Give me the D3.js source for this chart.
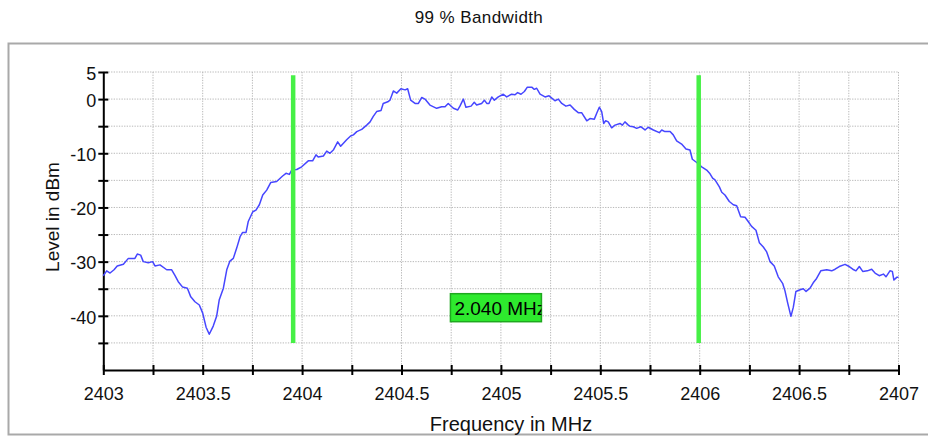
<!DOCTYPE html>
<html>
<head>
<meta charset="utf-8">
<script src="https://cdn.jsdelivr.net/npm/d3@7"></script>
<style>
  html, body { margin: 0; padding: 0; background: #ffffff; }
  svg { display: block; font-family: "Liberation Sans", Arial, sans-serif; }
</style>
</head>
<body>
<svg id="chart" width="928" height="437"></svg>
<script>
// Spectrum trace: frequency (MHz) and level (dBm)
const freqMHz = [
  2403.000, 2403.017, 2403.034, 2403.054, 2403.070, 2403.101, 2403.126, 2403.159, 2403.171, 2403.188,
  2403.201, 2403.226, 2403.248, 2403.260, 2403.285, 2403.319, 2403.344, 2403.361, 2403.377, 2403.399,
  2403.423, 2403.440, 2403.461, 2403.483, 2403.500, 2403.517, 2403.533, 2403.553, 2403.570, 2403.583,
  2403.604, 2403.621, 2403.637, 2403.654, 2403.671, 2403.688, 2403.701, 2403.718, 2403.729, 2403.752,
  2403.768, 2403.785, 2403.802, 2403.822, 2403.842, 2403.872, 2403.902, 2403.919, 2403.936, 2403.948,
  2403.973, 2403.998, 2404.031, 2404.053, 2404.070, 2404.081, 2404.107, 2404.124, 2404.140, 2404.157,
  2404.179, 2404.194, 2404.224, 2404.244, 2404.258, 2404.275, 2404.300, 2404.325, 2404.342, 2404.358,
  2404.375, 2404.397, 2404.408, 2404.431, 2404.442, 2404.459, 2404.476, 2404.497, 2404.518, 2404.531,
  2404.546, 2404.568, 2404.585, 2404.602, 2404.618, 2404.643, 2404.677, 2404.702, 2404.719, 2404.735,
  2404.761, 2404.783, 2404.794, 2404.811, 2404.824, 2404.850, 2404.866, 2404.878, 2404.903, 2404.917,
  2404.929, 2404.940, 2404.954, 2404.967, 2404.987, 2405.012, 2405.029, 2405.054, 2405.071, 2405.084,
  2405.101, 2405.118, 2405.133, 2405.155, 2405.168, 2405.180, 2405.197, 2405.222, 2405.242, 2405.259,
  2405.272, 2405.289, 2405.306, 2405.327, 2405.348, 2405.369, 2405.389, 2405.406, 2405.432, 2405.448,
  2405.470, 2405.482, 2405.495, 2405.507, 2405.517, 2405.527, 2405.540, 2405.557, 2405.574, 2405.599,
  2405.611, 2405.624, 2405.641, 2405.649, 2405.666, 2405.683, 2405.703, 2405.725, 2405.741, 2405.767,
  2405.797, 2405.809, 2405.825, 2405.851, 2405.867, 2405.884, 2405.909, 2405.931, 2405.951, 2405.963,
  2405.985, 2406.010, 2406.035, 2406.052, 2406.065, 2406.077, 2406.099, 2406.111, 2406.127, 2406.149,
  2406.169, 2406.186, 2406.206, 2406.228, 2406.244, 2406.261, 2406.283, 2406.300, 2406.320, 2406.337,
  2406.354, 2406.375, 2406.395, 2406.417, 2406.429, 2406.443, 2406.459, 2406.471, 2406.484, 2406.505,
  2406.521, 2406.535, 2406.555, 2406.571, 2406.588, 2406.609, 2406.639, 2406.664, 2406.681, 2406.702,
  2406.731, 2406.747, 2406.770, 2406.786, 2406.803, 2406.820, 2406.843, 2406.865, 2406.882, 2406.903,
  2406.924, 2406.937, 2406.957, 2406.969, 2406.977, 2406.991, 2407.000
];
const levelDbm = [
  -32.6, -31.7, -32.1, -31.5, -30.8, -30.5, -29.4, -29.4, -28.6, -28.8,
  -30.0, -30.2, -30.0, -30.8, -30.6, -31.5, -31.5, -32.6, -33.7, -34.7,
  -34.9, -36.5, -37.4, -38.0, -39.5, -42.1, -43.4, -41.9, -40.1, -37.1,
  -34.9, -31.5, -29.9, -29.4, -27.5, -25.4, -24.6, -24.6, -22.6, -20.8,
  -20.5, -19.5, -17.7, -16.8, -15.4, -15.2, -14.2, -13.7, -13.9, -13.1,
  -13.0, -12.5, -11.4, -11.4, -10.3, -10.7, -10.5, -9.6, -10.0, -9.4,
  -7.9, -8.7, -7.5, -6.8, -6.6, -6.0, -5.6, -4.8, -4.2, -3.2,
  -2.3, -2.1, -0.8, -0.5, -0.2, 1.5, 1.1, 1.9, 1.7, 1.9,
  -0.2, -0.8, -0.8, 0.3, 0.0, -1.1, -1.7, -1.4, -1.4, -0.8,
  -1.7, -2.0, -1.3, 0.0, -1.5, -1.3, -0.6, -1.1, -0.8, -0.2,
  -0.8, -0.8, 0.4, -0.2, 0.4, 0.9, 0.4, 0.9, 0.8, 1.2,
  0.9, 1.4, 2.2, 2.2, 1.8, 2.0, 0.9, 0.4, 0.6, 0.1,
  -0.3, 0.0, -0.8, -1.3, -1.1, -1.9, -2.5, -2.5, -4.0, -3.6,
  -3.7, -2.6, -1.5, -2.3, -4.5, -4.0, -4.2, -5.3, -4.8, -4.5,
  -4.8, -4.2, -4.8, -5.0, -5.1, -5.4, -5.1, -5.7, -5.2, -5.7,
  -6.2, -5.7, -6.0, -6.0, -6.6, -7.7, -8.3, -9.2, -9.4, -11.1,
  -11.7, -12.5, -13.1, -13.8, -14.6, -14.9, -16.2, -17.2, -17.7, -18.9,
  -19.5, -19.7, -21.7, -21.8, -22.6, -23.5, -24.2, -26.5, -27.3, -28.2,
  -30.0, -30.8, -32.8, -34.0, -35.4, -37.7, -40.1, -38.4, -35.5, -35.2,
  -35.0, -35.5, -34.9, -33.9, -33.1, -31.7, -31.5, -31.7, -31.4, -30.9,
  -30.5, -30.8, -31.4, -31.7, -30.9, -31.8, -31.7, -31.4, -32.1, -32.6,
  -32.3, -32.8, -31.7, -31.8, -33.4, -32.9, -32.9
];

// Occupied-bandwidth markers and their readout
const markerFreqs = [2403.955, 2405.995];
const markerSpan = [-45, 4.4];
const bandwidthLabel = "2.040 MHz";
const labelLevel = -38.5;

// Axis ticks and labels
const xTickValues = [2403, 2403.25, 2403.5, 2403.75, 2404, 2404.25, 2404.5, 2404.75, 2405,
                     2405.25, 2405.5, 2405.75, 2406, 2406.25, 2406.5, 2406.75, 2407];
const xTickLabels = ["2403", "", "2403.5", "", "2404", "", "2404.5", "", "2405",
                     "", "2405.5", "", "2406", "", "2406.5", "", "2407"];
const yTickValues = [5, 0, -5, -10, -15, -20, -25, -30, -35, -40, -45];
const yTickLabels = ["5", "0", "", "-10", "", "-20", "", "-30", "", "-40", ""];

const titleText = "99 % Bandwidth";
const xTitle = "Frequency in MHz";
const yTitle = "Level in dBm";

const svg = d3.select("#chart");

// Outer panel frame
svg.append("rect")
  .attr("x", 8.5).attr("y", 43.5)
  .attr("width", 960).attr("height", 391)
  .attr("fill", "#ffffff")
  .attr("stroke", "#a9a9a9").attr("stroke-width", 2);

svg.append("text")
  .attr("x", 479).attr("y", 23)
  .attr("text-anchor", "middle")
  .attr("font-size", 17).attr("letter-spacing", 0.4)
  .attr("fill", "#111")
  .text(titleText);

const x = d3.scaleLinear().domain([2403, 2407]).range([103.3, 898.5]);
const y = d3.scaleLinear().domain([-50, 5]).range([370, 72]);

// Dotted grid
const grid = svg.append("g")
  .attr("stroke", "#b8b8b8").attr("stroke-width", 1)
  .attr("stroke-dasharray", "1.3,1.3");
grid.selectAll("line.h").data(yTickValues).join("line")
  .attr("x1", x(2403)).attr("x2", x(2407))
  .attr("y1", d => y(d)).attr("y2", d => y(d));
grid.selectAll("line.v").data(xTickValues.slice(1)).join("line")
  .attr("x1", d => x(d)).attr("x2", d => x(d))
  .attr("y1", y(5)).attr("y2", y(-50));

// Axes
const xAxis = svg.append("g")
  .attr("transform", `translate(0,${y(-50)})`)
  .call(d3.axisBottom(x).tickValues(xTickValues)
    .tickFormat((d, i) => xTickLabels[i]).tickSizeInner(5).tickSizeOuter(0));
xAxis.select(".domain").attr("stroke", "#000").attr("stroke-width", 2);
xAxis.selectAll(".tick line").attr("y1", -5).attr("stroke-width", 2);
xAxis.selectAll(".tick text")
  .attr("y", 17).attr("font-size", 18).attr("fill", "#111")
  .attr("font-family", "Liberation Sans, Arial, sans-serif");

const yAxis = svg.append("g")
  .attr("transform", `translate(${x(2403)},0)`)
  .call(d3.axisLeft(y).tickValues(yTickValues)
    .tickFormat((d, i) => yTickLabels[i]).tickSizeInner(5).tickSizeOuter(0));
yAxis.select(".domain").attr("stroke", "#000").attr("stroke-width", 2);
yAxis.selectAll(".tick line").attr("x1", 5).attr("stroke-width", 2);
yAxis.selectAll(".tick text")
  .attr("x", -7).attr("dy", "0.4em").attr("font-size", 18).attr("fill", "#111")
  .attr("font-family", "Liberation Sans, Arial, sans-serif");

// Axis titles
svg.append("text")
  .attr("x", 511).attr("y", 431)
  .attr("text-anchor", "middle").attr("font-size", 20).attr("fill", "#111")
  .text(xTitle);
svg.append("text")
  .attr("transform", "translate(59,217) rotate(-90)")
  .attr("text-anchor", "middle").attr("font-size", 19).attr("fill", "#111")
  .text(yTitle);

// Spectrum trace
const points = freqMHz.map((f, i) => [f, levelDbm[i]]);
svg.append("path")
  .datum(points)
  .attr("fill", "none")
  .attr("stroke", "#4646ff").attr("stroke-width", 1.5)
  .attr("stroke-linejoin", "round")
  .attr("d", d3.line().x(d => x(d[0])).y(d => y(d[1])));

// Bandwidth marker lines
svg.selectAll("line.marker").data(markerFreqs).join("line")
  .attr("class", "marker")
  .attr("x1", d => x(d)).attr("x2", d => x(d))
  .attr("y1", y(markerSpan[1])).attr("y2", y(markerSpan[0]))
  .attr("stroke", "#46f046").attr("stroke-width", 4.5);

// Bandwidth readout box, centred between the markers
const midFreq = (markerFreqs[0] + markerFreqs[1]) / 2;
const boxW = 91, boxH = 28;
const bx = x(midFreq) - boxW / 2, by = y(labelLevel) - boxH / 2;
svg.append("clipPath").attr("id", "boxClip")
  .append("rect").attr("x", bx).attr("y", by).attr("width", boxW).attr("height", boxH);
svg.append("rect")
  .attr("x", bx).attr("y", by).attr("width", boxW).attr("height", boxH)
  .attr("fill", "#2eea2e").attr("stroke", "#1fa81f").attr("stroke-width", 1.5);
svg.append("text")
  .attr("clip-path", "url(#boxClip)")
  .attr("x", bx + 4).attr("y", by + 21)
  .attr("font-size", 19).attr("fill", "#000")
  .text(bandwidthLabel);
</script>
</body>
</html>
